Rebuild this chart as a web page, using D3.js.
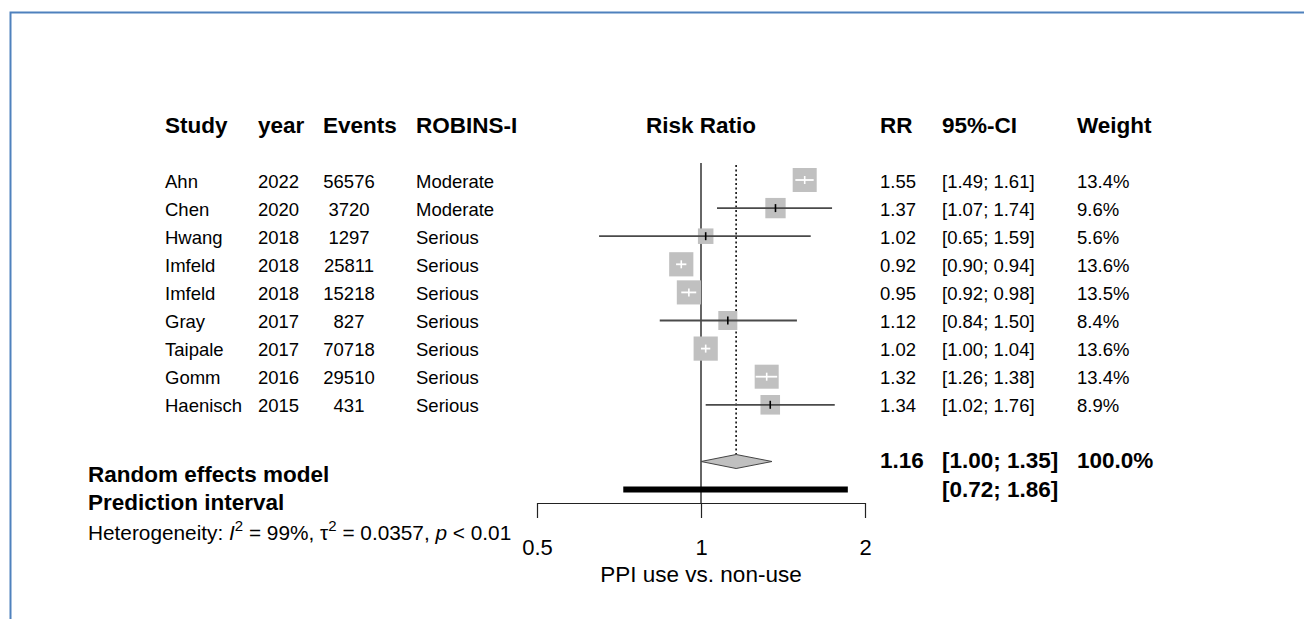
<!DOCTYPE html>
<html>
<head>
<meta charset="utf-8">
<script src="https://cdn.jsdelivr.net/npm/d3@7"></script>
<style>
  html, body { margin: 0; padding: 0; background: #ffffff; }
  svg { display: block; }
  text { font-family: "Liberation Sans", Arial, sans-serif; fill: #000; }
</style>
</head>
<body>
<svg id="chart" width="1304" height="619"></svg>
<script>
// Study-level data
const studies   = ["Ahn", "Chen", "Hwang", "Imfeld", "Imfeld", "Gray", "Taipale", "Gomm", "Haenisch"];
const years     = [2022, 2020, 2018, 2018, 2018, 2017, 2017, 2016, 2015];
const events    = [56576, 3720, 1297, 25811, 15218, 827, 70718, 29510, 431];
const robins    = ["Moderate", "Moderate", "Serious", "Serious", "Serious", "Serious", "Serious", "Serious", "Serious"];
const rr        = [1.55, 1.37, 1.02, 0.92, 0.95, 1.12, 1.02, 1.32, 1.34];
const ciLower   = [1.49, 1.07, 0.65, 0.90, 0.92, 0.84, 1.00, 1.26, 1.02];
const ciUpper   = [1.61, 1.74, 1.59, 0.94, 0.98, 1.50, 1.04, 1.38, 1.76];
const weights   = [13.4, 9.6, 5.6, 13.6, 13.5, 8.4, 13.6, 13.4, 8.9];

// Pooled random-effects estimate [RR, lower, upper] and prediction interval
const pooled     = [1.16, 1.00, 1.35];
const prediction = [0.72, 1.86];
const pooledWeight = "100.0%";

// Axis
const tickValues = [0.5, 1, 2];
const axisTitle  = "PPI use vs. non-use";

// Column headers
const headersLeft  = ["Study", "year", "Events", "ROBINS-I"];
const headersRight = ["RR", "95%-CI", "Weight"];

const svg = d3.select("#chart");
const fmt2 = d3.format(".2f");

// Scales
const x = d3.scaleLog().domain([0.5, 2]).range([537, 865]);
const rowY = d3.scaleLinear().domain([0, 1]).range([181, 209.1]);
const side = d3.scaleSqrt().domain([0, 13.6]).range([0, 24.2]);

// Frame
svg.append("path")
  .attr("d", "M10.5,640 V12.5 H1320")
  .attr("fill", "none")
  .attr("stroke", "#4f81bd")
  .attr("stroke-width", 2);

const rowFont = 18.5, headFont = 22.5;

// Column x-positions
const colStudy = 165, colYear = 258, colEventsMid = 349, colRob = 416;
const colRR = 880, colCI = 942, colW = 1077;

// Headers
const headerY = rowY(-2) + 8;
[colStudy, colYear, 323, colRob].forEach((cx, i) => {
  svg.append("text").attr("x", cx).attr("y", headerY)
    .attr("font-size", headFont).attr("font-weight", "bold").text(headersLeft[i]);
});
[colRR, colCI, colW].forEach((cx, i) => {
  svg.append("text").attr("x", cx).attr("y", headerY)
    .attr("font-size", headFont).attr("font-weight", "bold").text(headersRight[i]);
});
svg.append("text").attr("x", x(1)).attr("y", headerY)
  .attr("text-anchor", "middle")
  .attr("font-size", headFont).attr("font-weight", "bold").text("Risk Ratio");

// Study rows text
const rows = d3.range(studies.length);
const tb = i => rowY(i) + 6.5;
const rowText = (cx, fn, anchor) => svg.append("g").selectAll("text").data(rows).join("text")
  .attr("x", cx).attr("y", tb).attr("font-size", rowFont)
  .attr("text-anchor", anchor || "start").text(fn);

rowText(colStudy, i => studies[i]);
rowText(colYear, i => years[i]);
rowText(colEventsMid, i => events[i], "middle");
rowText(colRob, i => robins[i]);
rowText(colRR, i => fmt2(rr[i]));
rowText(colCI, i => `[${fmt2(ciLower[i])}; ${fmt2(ciUpper[i])}]`);
rowText(colW, i => `${weights[i].toFixed(1)}%`);

// Reference lines
const lineTop = 163, axisY = 503;
svg.append("line")
  .attr("x1", x(1)).attr("x2", x(1)).attr("y1", lineTop).attr("y2", axisY)
  .attr("stroke", "#333").attr("stroke-width", 1.5);

const diamondY = rowY(10) - 0.5;
svg.append("line")
  .attr("x1", x(pooled[0])).attr("x2", x(pooled[0]))
  .attr("y1", lineTop + 2).attr("y2", diamondY - 7)
  .attr("stroke", "#000").attr("stroke-width", 1.5)
  .attr("stroke-dasharray", "2,2.5");

// Study markers
const studyG = svg.append("g");
rows.forEach(i => {
  const cy = rowY(i) - 1;
  const s = side(weights[i]);
  const cx = x(rr[i]);
  const inside = x(ciLower[i]) >= cx - s / 2 && x(ciUpper[i]) <= cx + s / 2;
  studyG.append("rect")
    .attr("x", cx - s / 2).attr("y", cy - s / 2)
    .attr("width", s).attr("height", s)
    .attr("fill", "#c0c0c0");
  studyG.append("line")
    .attr("x1", x(ciLower[i])).attr("x2", x(ciUpper[i]))
    .attr("y1", cy).attr("y2", cy)
    .attr("stroke", inside ? "#fff" : "#4a4a4a").attr("stroke-width", 1.8);
  studyG.append("line")
    .attr("x1", cx).attr("x2", cx)
    .attr("y1", cy - 4).attr("y2", cy + 4)
    .attr("stroke", inside ? "#fff" : "#000").attr("stroke-width", 1.6);
});

// Pooled diamond
const dh = 7;
svg.append("path")
  .attr("d", `M${x(pooled[1])},${diamondY} L${x(pooled[0])},${diamondY - dh} L${x(pooled[2])},${diamondY} L${x(pooled[0])},${diamondY + dh} Z`)
  .attr("fill", "#c0c0c0").attr("stroke", "#444").attr("stroke-width", 1);

// Prediction interval bar
const predY = rowY(11) - 0.5;
svg.append("line")
  .attr("x1", x(prediction[0])).attr("x2", x(prediction[1]))
  .attr("y1", predY).attr("y2", predY)
  .attr("stroke", "#000").attr("stroke-width", 6);

// Axis
const axisG = svg.append("g").attr("transform", `translate(0,${axisY})`)
  .call(d3.axisBottom(x).tickValues(tickValues).tickFormat(d3.format("")).tickSize(15).tickSizeOuter(0));
axisG.select(".domain").attr("stroke", "#222").attr("stroke-width", 1.2);
axisG.selectAll(".tick line").attr("stroke", "#222").attr("stroke-width", 1.2);
axisG.selectAll(".tick text")
  .attr("font-family", "Liberation Sans, Arial, sans-serif")
  .attr("font-size", 22).attr("fill", "#000")
  .attr("dy", null).attr("y", 51.5);

svg.append("text").attr("x", x(1)).attr("y", 582)
  .attr("text-anchor", "middle").attr("font-size", 22.5).text(axisTitle);

// Summary rows
svg.append("text").attr("x", 88).attr("y", 482)
  .attr("font-size", headFont).attr("font-weight", "bold").text("Random effects model");
svg.append("text").attr("x", 88).attr("y", 510)
  .attr("font-size", headFont).attr("font-weight", "bold").text("Prediction interval");

svg.append("text").attr("x", colRR).attr("y", 468)
  .attr("font-size", headFont).attr("font-weight", "bold").text(fmt2(pooled[0]));
svg.append("text").attr("x", colCI).attr("y", 468)
  .attr("font-size", headFont).attr("font-weight", "bold")
  .text(`[${fmt2(pooled[1])}; ${fmt2(pooled[2])}]`);
svg.append("text").attr("x", colW).attr("y", 468)
  .attr("font-size", headFont).attr("font-weight", "bold").text(pooledWeight);
svg.append("text").attr("x", colCI).attr("y", 496.5)
  .attr("font-size", headFont).attr("font-weight", "bold")
  .text(`[${fmt2(prediction[0])}; ${fmt2(prediction[1])}]`);

// Heterogeneity statistics
const het = svg.append("text").attr("x", 88).attr("y", 540).attr("font-size", 20.8);
het.append("tspan").text("Heterogeneity: ");
het.append("tspan").attr("font-style", "italic").text("I");
het.append("tspan").attr("font-size", 15).attr("dy", -9).text("2");
het.append("tspan").attr("dy", 9).text(" = 99%, τ");
het.append("tspan").attr("font-size", 15).attr("dy", -9).text("2");
het.append("tspan").attr("dy", 9).text(" = 0.0357, ");
het.append("tspan").attr("font-style", "italic").text("p");
het.append("tspan").text(" < 0.01");
</script>
</body>
</html>
